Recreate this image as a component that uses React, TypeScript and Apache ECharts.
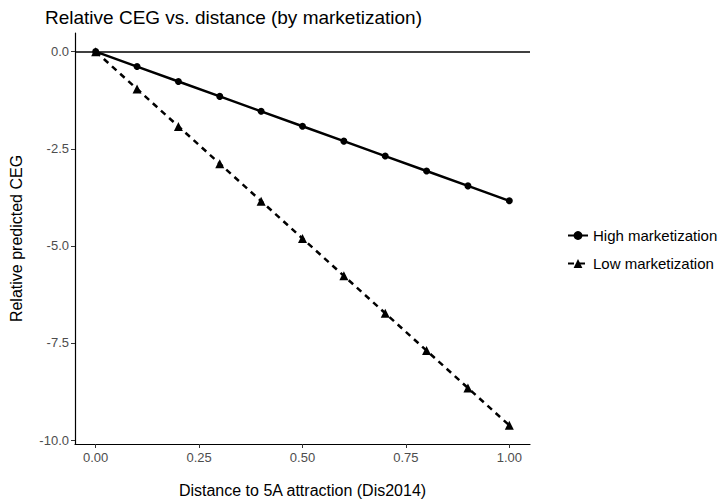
import React, { useEffect, useRef } from "react";
import * as echarts from "echarts";

const distance = [0, 0.1, 0.2, 0.3, 0.4, 0.5, 0.6, 0.7, 0.8, 0.9, 1.0];
const highMarket = [0, -0.384, -0.768, -1.152, -1.536, -1.92, -2.304, -2.688, -3.072, -3.456, -3.84];
const lowMarket = [0, -0.962, -1.924, -2.886, -3.848, -4.81, -5.772, -6.734, -7.696, -8.658, -9.62];
const xTicks = [0, 0.25, 0.5, 0.75, 1.0];
const yTicks = [0, -2.5, -5, -7.5, -10];
const seriesNames = ["High marketization", "Low marketization"];

const FONT = "'Liberation Sans', Arial, sans-serif";

export default function App() {
  const ref = useRef<HTMLDivElement>(null);
  useEffect(() => {
    if (!ref.current) return;
    const chart = echarts.init(ref.current, undefined, { renderer: "svg" });
    const pairs = (ys: number[]) => distance.map((x, i) => [x, ys[i]]);
    chart.setOption({
      animation: false,
      backgroundColor: "#ffffff",
      textStyle: { fontFamily: FONT },
      title: {
        text: "Relative CEG vs. distance (by marketization)",
        left: 40,
        top: 3,
        textStyle: { fontFamily: FONT, fontSize: 19, fontWeight: "normal", color: "#000" },
      },
      grid: { left: 67, right: 192, top: 33, bottom: 49, containLabel: false },
      legend: {
        orient: "vertical",
        left: 562,
        top: 223,
        itemWidth: 20,
        itemHeight: 11,
        itemGap: 13,
        data: seriesNames,
        textStyle: { fontFamily: FONT, fontSize: 15, color: "#000" },
      },
      xAxis: {
        type: "value",
        min: -0.05,
        max: 1.05,
        name: "Distance to 5A attraction (Dis2014)",
        nameLocation: "middle",
        nameGap: 38,
        nameTextStyle: { fontFamily: FONT, fontSize: 16, color: "#000" },
        axisLine: { show: true, onZero: false, lineStyle: { color: "#000", width: 1.2 } },
        axisTick: { show: true, length: 4, lineStyle: { color: "#333" }, customValues: xTicks },
        axisLabel: {
          fontFamily: FONT,
          fontSize: 13,
          color: "#4d4d4d",
          margin: 7,
          customValues: xTicks,
          formatter: (v: number) => v.toFixed(2),
        },
        splitLine: { show: false },
      },
      yAxis: {
        type: "value",
        min: -10.1,
        max: 0.48,
        name: "Relative predicted CEG",
        nameLocation: "middle",
        nameGap: 51,
        nameTextStyle: { fontFamily: FONT, fontSize: 16, color: "#000" },
        axisLine: { show: true, onZero: false, lineStyle: { color: "#000", width: 1.2 } },
        axisTick: { show: true, length: 4, lineStyle: { color: "#333" }, customValues: yTicks },
        axisLabel: {
          fontFamily: FONT,
          fontSize: 13,
          color: "#4d4d4d",
          margin: 6,
          customValues: yTicks,
          formatter: (v: number) => v.toFixed(1),
        },
        splitLine: { show: false },
      },
      series: [
        {
          name: seriesNames[0],
          type: "line",
          data: pairs(highMarket),
          symbol: "circle",
          symbolSize: 7,
          itemStyle: { color: "#000" },
          lineStyle: { color: "#000", width: 2.5, type: "solid" },
          z: 3,
          markLine: {
            silent: true,
            symbol: ["none", "none"],
            label: { show: false },
            lineStyle: { color: "#000", width: 1.5, type: "solid" },
            data: [{ yAxis: 0 }],
          },
        },
        {
          name: seriesNames[1],
          type: "line",
          data: pairs(lowMarket),
          symbol: "triangle",
          symbolSize: 9,
          itemStyle: { color: "#000" },
          lineStyle: { color: "#000", width: 2.5, type: [6, 5] },
          z: 3,
        },
      ],
    });
    return () => chart.dispose();
  }, []);
  return (
    <div
      ref={ref}
      style={{ position: "fixed", left: 0, top: 0, width: 722, height: 503 }}
    />
  );
}
